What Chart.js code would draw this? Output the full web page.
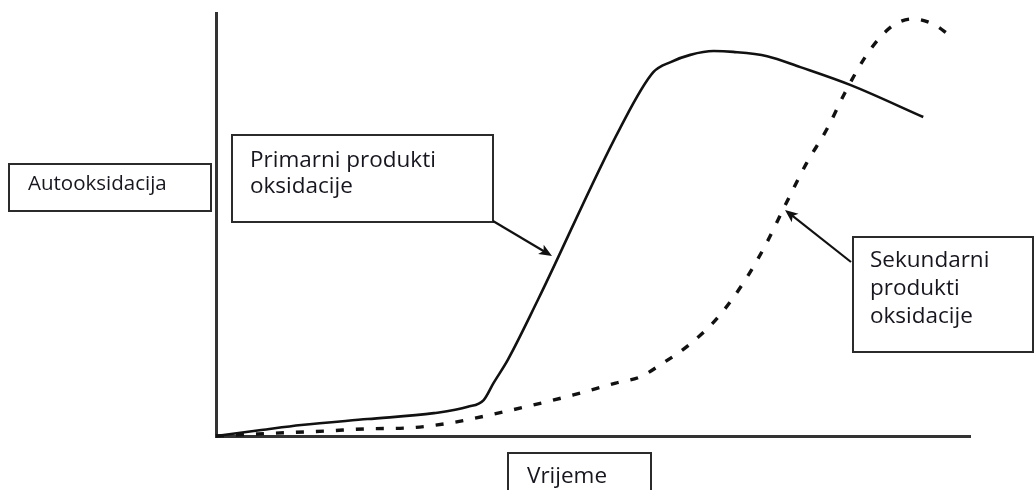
<!DOCTYPE html>
<html>
<head>
<meta charset="utf-8">
<title>Autooksidacija</title>
<script src="https://cdn.jsdelivr.net/npm/chart.js@4/dist/chart.umd.min.js"></script>
<style>
  html, body { margin: 0; padding: 0; background: #fff; }
  #chart { display: block; }
</style>
</head>
<body>
<canvas id="chart" width="1035" height="490"></canvas>
<script>
// vrijeme (x) i razina (y), relativne jedinice 0-100
const primarniX = [0, 6, 11.3, 20.1, 28.9, 33.4, 35.5, 36.8, 38.7, 42.7, 53.6, 58, 60.3, 62.9, 66, 68.6, 73.1, 77.5, 84.1, 93.8];
const primarniY = [0, 1.4, 2.6, 4, 5.4, 6.9, 8.5, 12.5, 18, 32.2, 72.8, 86, 88.4, 90.1, 91, 90.8, 89.8, 87.2, 83, 75.4];

const sekundarniX = [0, 5.6, 14.8, 20.1, 25.4, 31.1, 36.4, 42, 47.4, 53, 56.3, 58.9, 62.7, 66.6, 70.2, 72.9, 75.5, 78.2, 81.1, 83.4, 86.1, 88.1, 90.1, 92.3, 95.1, 97.4];
const sekundarniY = [0, 0.5, 1.2, 1.7, 1.9, 3.1, 5, 7.3, 9.7, 12.5, 14, 16.8, 21.5, 28.1, 36.9, 45.2, 54.6, 64.1, 72.8, 81.1, 89.6, 94.3, 97.4, 98.6, 97.4, 94.6];

const labelX = "Vrijeme";
const labelY = "Autooksidacija";
const labelPrimarni = ["Primarni produkti", "oksidacije"];
const labelSekundarni = ["Sekundarni", "produkti", "oksidacije"];

const TEXT_FONT = '22.5px "Open Sans"';
const TEXT_COLOR = "#16161f";

function toPoints(xs, ys) {
  return xs.map((x, i) => ({ x: x, y: ys[i] }));
}

function drawBox(ctx, x, y, w, h, lines, tx, ty, lineHeight, font) {
  ctx.save();
  ctx.fillStyle = "#fff";
  ctx.fillRect(x, y, w, h);
  ctx.strokeStyle = "#2b2b2b";
  ctx.lineWidth = 2;
  ctx.strokeRect(x, y, w, h);
  ctx.fillStyle = TEXT_COLOR;
  ctx.font = font || TEXT_FONT;
  ctx.textBaseline = "alphabetic";
  lines.forEach((line, i) => {
    ctx.fillText(line, tx, ty + i * lineHeight);
  });
  ctx.restore();
}

function drawArrow(ctx, x1, y1, x2, y2) {
  const angle = Math.atan2(y2 - y1, x2 - x1);
  const len = 14;
  const spread = 0.4;
  ctx.save();
  ctx.strokeStyle = "#111";
  ctx.fillStyle = "#111";
  ctx.lineWidth = 2.2;
  ctx.beginPath();
  ctx.moveTo(x1, y1);
  ctx.lineTo(x2 - Math.cos(angle) * 6, y2 - Math.sin(angle) * 6);
  ctx.stroke();
  ctx.beginPath();
  ctx.moveTo(x2, y2);
  ctx.lineTo(x2 - len * Math.cos(angle - spread), y2 - len * Math.sin(angle - spread));
  ctx.lineTo(x2 - len * 0.7 * Math.cos(angle), y2 - len * 0.7 * Math.sin(angle));
  ctx.lineTo(x2 - len * Math.cos(angle + spread), y2 - len * Math.sin(angle + spread));
  ctx.closePath();
  ctx.fill();
  ctx.restore();
}

// okviri s tekstom i strelice
const labelsPlugin = {
  id: "labelsPlugin",
  afterDraw(chart) {
    const ctx = chart.ctx;
    drawBox(ctx, 9, 164, 202, 47, [labelY], 28, 190, 26, '20.5px "Open Sans"');
    drawBox(ctx, 232, 135, 261, 87, labelPrimarni, 250, 167, 26);
    drawBox(ctx, 853, 237, 180, 115, labelSekundarni, 870, 267, 28);
    drawBox(ctx, 508, 453, 143, 45, [labelX], 527, 483, 26);
    drawArrow(ctx, 493, 221, 552, 256);
    drawArrow(ctx, 851, 262, 785, 210);
  },
};

const axisBorder = { display: true, width: 3, color: "#333" };

new Chart(document.getElementById("chart"), {
  type: "line",
  data: {
    datasets: [
      {
        label: labelPrimarni.join(" "),
        data: toPoints(primarniX, primarniY),
        borderColor: "#111",
        borderWidth: 2.6,
        pointRadius: 0,
        cubicInterpolationMode: "monotone",
        fill: false,
      },
      {
        label: labelSekundarni.join(" "),
        data: toPoints(sekundarniX, sekundarniY),
        borderColor: "#111",
        borderWidth: 3.4,
        borderDash: [8, 12],
        pointRadius: 0,
        cubicInterpolationMode: "monotone",
        fill: false,
      },
    ],
  },
  options: {
    responsive: false,
    animation: false,
    clip: false,
    layout: { padding: { left: 208, top: 13, right: 65, bottom: 46 } },
    plugins: {
      legend: { display: false },
      tooltip: { enabled: false },
    },
    scales: {
      x: {
        type: "linear",
        min: 0,
        max: 100,
        grid: { display: false },
        ticks: { display: false },
        border: axisBorder,
      },
      y: {
        type: "linear",
        min: 0,
        max: 100,
        grid: { display: false },
        ticks: { display: false },
        border: axisBorder,
      },
    },
  },
  plugins: [labelsPlugin],
});
</script>
</body>
</html>
